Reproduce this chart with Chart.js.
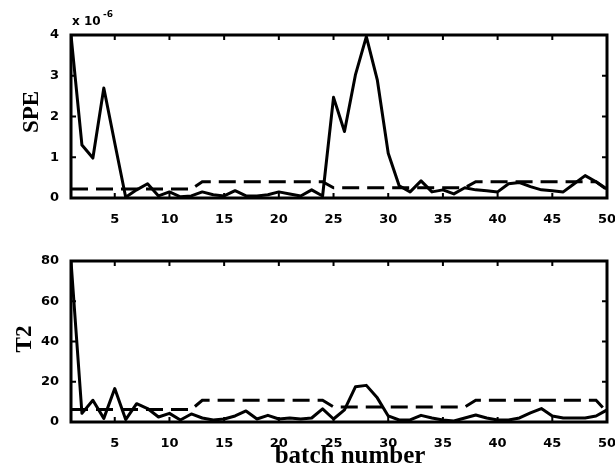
<!DOCTYPE html>
<html>
<head>
<meta charset="utf-8">
<script src="https://cdn.jsdelivr.net/npm/chart.js@4"></script>
<style>
  html, body { margin: 0; padding: 0; background: #fff; }
  .panel { position: absolute; left: 0; width: 615px; height: 236px; }
  #spe-wrap { top: 0; }
  #t2-wrap { top: 236px; }
</style>
</head>
<body>
<div class="panel" id="spe-wrap"><canvas id="spe-chart" width="615" height="236"></canvas></div>
<div class="panel" id="t2-wrap"><canvas id="t2-chart" width="615" height="236"></canvas></div>
<script>
// batch index shared by both panels
const batches = [
  1, 2, 3, 4, 5, 6, 7, 8, 9, 10, 11, 12, 13, 14, 15, 16, 17, 18, 19, 20, 21, 22, 23, 24, 25,
  26, 27, 28, 29, 30, 31, 32, 33, 34, 35, 36, 37, 38, 39, 40, 41, 42, 43, 44, 45, 46, 47, 48, 49, 50,
];
const xTicks = [5, 10, 15, 20, 25, 30, 35, 40, 45, 50];

// SPE (x 10^-6) and its control limit
const speValues = [
  4.0, 1.3, 0.98, 2.7, 1.35, 0.02, 0.2, 0.35, 0.05, 0.15,
  0.03, 0.05, 0.15, 0.08, 0.05, 0.18, 0.05, 0.05, 0.08, 0.15,
  0.1, 0.05, 0.2, 0.05, 2.47, 1.63, 3.02, 3.96, 2.9, 1.1,
  0.3, 0.15, 0.42, 0.15, 0.2, 0.1, 0.25, 0.2, 0.18, 0.15,
  0.35, 0.38, 0.28, 0.2, 0.18, 0.15, 0.35, 0.55, 0.4, 0.22,
];
const speLimit = [
  0.22, 0.22, 0.22, 0.22, 0.22, 0.22, 0.22, 0.22, 0.22, 0.22,
  0.22, 0.22, 0.4, 0.4, 0.4, 0.4, 0.4, 0.4, 0.4, 0.4,
  0.4, 0.4, 0.4, 0.4, 0.25, 0.25, 0.25, 0.25, 0.25, 0.25,
  0.25, 0.25, 0.25, 0.25, 0.25, 0.25, 0.25, 0.4, 0.4, 0.4,
  0.4, 0.4, 0.4, 0.4, 0.4, 0.4, 0.4, 0.4, 0.4, 0.2,
];
const speTicks = [0, 1, 2, 3, 4];

// Hotelling T2 and its control limit
const t2Values = [
  80, 4.3, 10.8, 1.8, 16.6, 1.2, 9.1, 6.7, 2.5, 4.3,
  1, 4, 2, 1, 1.5, 3, 5.5, 1.5, 3.3, 1.5,
  2, 1.5, 2, 6.5, 1.5, 6, 17.5, 18.2, 12, 3,
  1, 1, 3.3, 2, 1, 0.5, 2, 3.5, 2, 1,
  1, 2, 4.5, 6.7, 3, 2, 2, 2, 3, 6,
];
const t2Limit = [
  6.2, 6.2, 6.2, 6.2, 6.2, 6.2, 6.2, 6.2, 6.2, 6.2,
  6.2, 6.2, 10.8, 10.8, 10.8, 10.8, 10.8, 10.8, 10.8, 10.8,
  10.8, 10.8, 10.8, 10.8, 7.5, 7.5, 7.5, 7.5, 7.5, 7.5,
  7.5, 7.5, 7.5, 7.5, 7.5, 7.5, 7.5, 10.8, 10.8, 10.8,
  10.8, 10.8, 10.8, 10.8, 10.8, 10.8, 10.8, 10.8, 10.8, 5,
];
const t2Ticks = [0, 20, 40, 60, 80];

const tickFont = { family: '"DejaVu Sans"', size: 13, weight: 'bold' };
const titleFont = 'bold 23px "Liberation Serif"';

// box frame, inward tick marks and the panel texts
const framePlugin = {
  id: 'frame',
  afterDatasetsDraw(chart, args, opts) {
    const { ctx, chartArea: a, scales: { x, y } } = chart;
    ctx.save();
    ctx.strokeStyle = '#000';
    ctx.lineWidth = 3;
    ctx.strokeRect(a.left, a.top, a.right - a.left, a.bottom - a.top);

    ctx.lineWidth = 2;
    ctx.beginPath();
    x.ticks.forEach(t => {
      const px = x.getPixelForValue(t.value);
      ctx.moveTo(px, a.bottom); ctx.lineTo(px, a.bottom - 5);
      ctx.moveTo(px, a.top); ctx.lineTo(px, a.top + 5);
    });
    y.ticks.forEach(t => {
      const py = y.getPixelForValue(t.value);
      ctx.moveTo(a.left, py); ctx.lineTo(a.left + 5, py);
      ctx.moveTo(a.right, py); ctx.lineTo(a.right - 5, py);
    });
    ctx.stroke();

    ctx.fillStyle = '#000';
    ctx.font = titleFont;
    ctx.textAlign = 'center';
    ctx.textBaseline = 'middle';
    ctx.save();
    ctx.translate(opts.yTitleX, opts.yTitleY);
    ctx.rotate(-Math.PI / 2);
    ctx.fillText(opts.yTitle, 0, 0);
    ctx.restore();

    if (opts.xTitle) {
      ctx.font = 'bold 25px "Liberation Serif"';
      ctx.fillText(opts.xTitle, opts.xTitleX, opts.xTitleY);
    }
    if (opts.exponent) {
      ctx.textAlign = 'left';
      ctx.textBaseline = 'alphabetic';
      ctx.font = 'bold 12px "DejaVu Sans"';
      ctx.fillText('x 10', a.left + 1, a.top - 10);
      ctx.font = 'bold 9px "DejaVu Sans"';
      ctx.fillText(opts.exponent, a.left + 32, a.top - 18);
    }
    ctx.restore();
  },
};

function makeConfig(values, limit, yTicks, topPad, xAxisHeight, texts) {
  return {
    type: 'line',
    data: {
      datasets: [
        {
          label: 'limit',
          data: batches.map((b, i) => ({ x: b, y: limit[i] })),
          borderColor: '#000',
          borderWidth: 3,
          borderDash: [17, 8],
          pointRadius: 0,
          tension: 0,
        },
        {
          label: 'value',
          data: batches.map((b, i) => ({ x: b, y: values[i] })),
          borderColor: '#000',
          borderWidth: 3,
          borderJoinStyle: 'round',
          pointRadius: 0,
          tension: 0,
        },
      ],
    },
    options: {
      responsive: false,
      animation: false,
      devicePixelRatio: 1,
      layout: { padding: { top: topPad, right: 8, left: 0, bottom: 0 } },
      plugins: {
        legend: { display: false },
        tooltip: { enabled: false },
        frame: texts,
      },
      scales: {
        x: {
          type: 'linear',
          min: 1,
          max: 50,
          grid: { display: false },
          border: { display: false },
          afterBuildTicks: s => { s.ticks = xTicks.map(v => ({ value: v })); },
          afterFit: s => { s.height = xAxisHeight; s.paddingLeft = 0; s.paddingRight = 0; },
          ticks: { color: '#000', font: tickFont, padding: 6, maxRotation: 0, autoSkip: false },
        },
        y: {
          min: yTicks[0],
          max: yTicks[yTicks.length - 1],
          grid: { display: false },
          border: { display: false },
          afterBuildTicks: s => { s.ticks = yTicks.map(v => ({ value: v })); },
          afterFit: s => { s.width = 71; s.paddingTop = 0; s.paddingBottom = 0; },
          ticks: { color: '#000', font: tickFont, padding: 4 },
        },
      },
    },
    plugins: [framePlugin],
  };
}

new Chart(document.querySelector('#spe-chart'),
  makeConfig(speValues, speLimit, speTicks, 35, 38,
    { yTitle: 'SPE', yTitleX: 32, yTitleY: 112, exponent: '-6' }));

new Chart(document.querySelector('#t2-chart'),
  makeConfig(t2Values, t2Limit, t2Ticks, 25, 50,
    { yTitle: 'T2', yTitleX: 25, yTitleY: 103, xTitle: 'batch number', xTitleX: 350, xTitleY: 221 }));
</script>
</body>
</html>
